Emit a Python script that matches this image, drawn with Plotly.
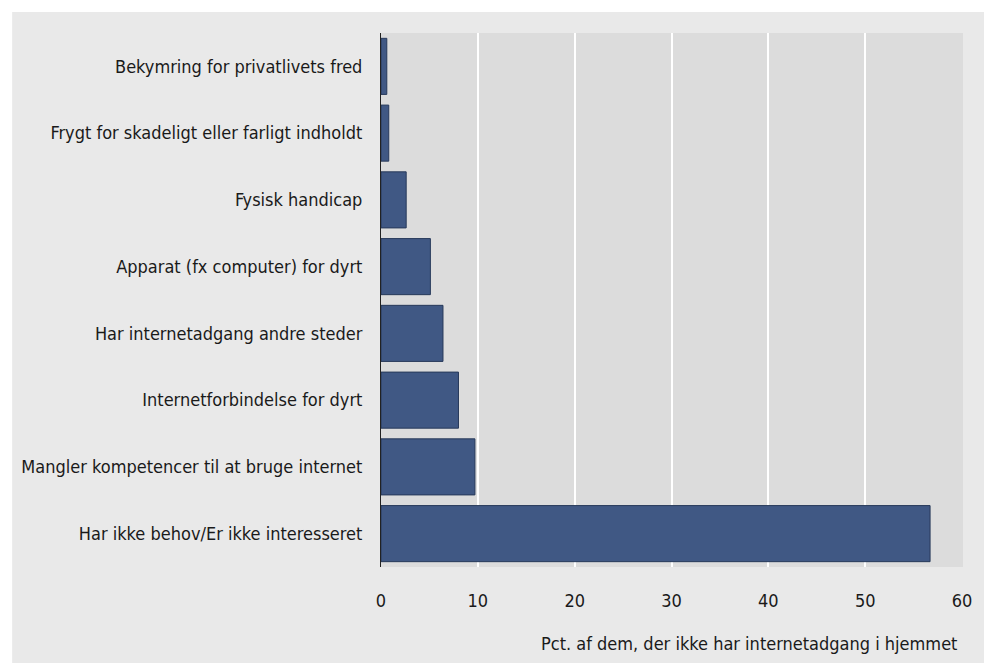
import plotly.graph_objects as go

categories = [
    "Har ikke behov/Er ikke interesseret",
    "Mangler kompetencer til at bruge internet",
    "Internetforbindelse for dyrt",
    "Har internetadgang andre steder",
    "Apparat (fx computer) for dyrt",
    "Fysisk handicap",
    "Frygt for skadeligt eller farligt indholdt",
    "Bekymring for privatlivets fred",
]
values = [56.7, 9.7, 8.0, 6.4, 5.1, 2.6, 0.8, 0.6]
x_ticks = [0, 10, 20, 30, 40, 50, 60]
x_title = "Pct. af dem, der ikke har internetadgang i hjemmet"

FONT = "DejaVu Sans Condensed, Liberation Sans Narrow, sans-serif"

fig = go.Figure(
    go.Bar(
        y=categories,
        x=values,
        orientation="h",
        width=0.84,
        marker=dict(color="#405884", line=dict(color="#27395a", width=1)),
        hoverinfo="x+y",
    )
)

W, H = 984, 663
L, R, T, B = 381, 16, 33, 96
PW, PH = W - L - R, H - T - B

fig.update_layout(
    width=W,
    height=H,
    margin=dict(l=L, r=R, t=T, b=B, pad=0),
    paper_bgcolor="#e9e9e9",
    plot_bgcolor="#dcdcdc",
    font=dict(family=FONT, size=18, color="#1a1a1a"),
    showlegend=False,
    bargap=0.16,
    shapes=[
        # white strip along the top
        dict(
            type="rect", xref="paper", yref="paper", layer="below",
            x0=-L / PW - 0.01, x1=1 + R / PW + 0.01,
            y0=1 + (T - 12) / PH, y1=1 + T / PH + 0.01,
            fillcolor="white", line=dict(width=0),
        ),
        # white strip along the left
        dict(
            type="rect", xref="paper", yref="paper", layer="below",
            x0=-L / PW - 0.01, x1=-(L - 9) / PW,
            y0=-B / PH - 0.01, y1=1 + T / PH + 0.01,
            fillcolor="white", line=dict(width=0),
        ),
    ],
    annotations=[
        dict(
            text=x_title, xref="paper", yref="paper",
            x=1, xshift=-4, xanchor="right",
            y=0, yshift=-76, yanchor="middle",
            showarrow=False, font=dict(family=FONT, size=18, color="#1a1a1a"),
        )
    ],
)

fig.update_xaxes(
    range=[0, 60.1],
    tickvals=x_ticks,
    ticktext=[str(t) for t in x_ticks],
    showgrid=True,
    gridcolor="white",
    gridwidth=2,
    zeroline=False,
    ticks="outside",
    ticklen=17,
    tickcolor="rgba(0,0,0,0)",
    showline=False,
    fixedrange=True,
)
fig.update_yaxes(
    categoryorder="array",
    categoryarray=categories,
    showgrid=False,
    zeroline=False,
    showline=True,
    linecolor="#222222",
    linewidth=1,
    ticks="outside",
    ticklen=14,
    tickcolor="rgba(0,0,0,0)",
    fixedrange=True,
)

fig.write_html(
    "out.html",
    config={"displayModeBar": False},
    post_script="document.body.style.margin='0';document.body.style.overflow='hidden';",
)
